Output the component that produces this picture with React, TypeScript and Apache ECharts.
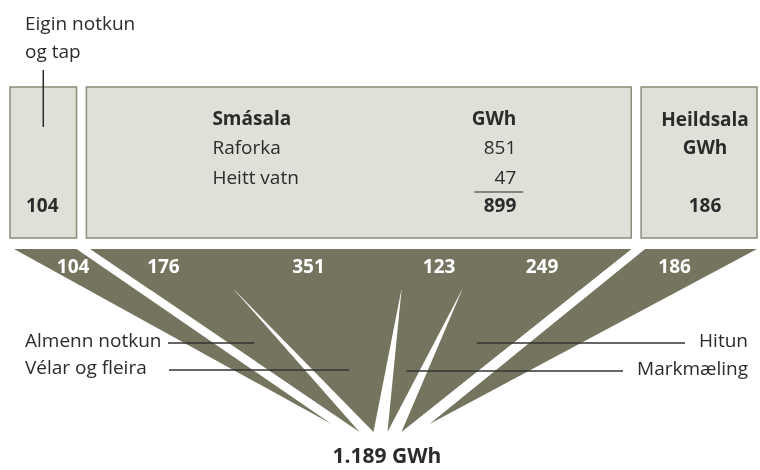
import { useEffect, useRef } from "react";
import * as echarts from "echarts";

// ---------- data ----------
const PIECE_NAMES = ["Eigin notkun og tap", "Almenn notkun", "Vélar og fleira", "Markmæling", "Hitun", "Heildsala"];
const PIECE_VALUES = [104, 176, 351, 123, 249, 186];
const PIECE_GROUP = [0, 1, 1, 1, 1, 2];
const BOX_TOTALS = [104, 899, 186];
const OWN_USE_TITLE = ["Eigin notkun", "og tap"];
const RETAIL_TITLE = "Smásala";
const WHOLESALE_TITLE = "Heildsala";
const RETAIL_ROWS = ["Raforka", "Heitt vatn"];
const RETAIL_VALUES = [851, 47];
const UNIT = "GWh";
const GRAND_TOTAL = 1189;
const ANNOTATED = [1, 2, 3, 4];

// ---------- layout / style ----------
const GAP = 23;
const TOP_Y = 249;
const SLIVER_Y = 288;
const TIP_Y_OUT = 424;
const TIP_Y_IN = 432;
const TIP_STEP = 14;
const TIP_SHIFT = -5;
const LABEL_Y = 266;
const BOX_TOP = 87;
const BOX_BOTTOM = 238;
const WEDGE = "#75745f";
const BOX_FILL = "#e0dfd8";
const BOX_STROKE = "#8c8c7a";
const TEXT = "#2b2b2b";
const FONT = '"Open Sans", "Noto Sans", sans-serif';
const FS = 19;
const ANNOT_LAYOUT: Record<number, { side: string; y: number; from: number }> = {
  1: { side: "left", y: 343, from: 168 },
  2: { side: "left", y: 370, from: 169 },
  3: { side: "right", y: 371, from: 623 },
  4: { side: "right", y: 343, from: 685 },
};

let cursor = 0;
let slot = 0;
const pieceSlots: number[] = [];
const pieceData = PIECE_VALUES.map((v, i) => {
  if (i > 0 && PIECE_GROUP[i] !== PIECE_GROUP[i - 1]) {
    cursor += GAP;
    slot += 1;
  }
  pieceSlots.push(slot);
  slot += 1;
  const s = cursor;
  cursor += v;
  return [s, cursor, v, i];
});
const SLOT_CENTER = (pieceSlots[0] + pieceSlots[pieceSlots.length - 1]) / 2;
const AXIS_MAX = cursor;
const boxData = BOX_TOTALS.map((t, g) => {
  const ps = pieceData.filter((d) => PIECE_GROUP[d[3]] === g);
  return [ps[0][0], ps[ps.length - 1][1], t, g];
});
const groupSize = (g: number) => PIECE_GROUP.filter((x) => x === g).length;
const fmt = (n: number) => String(n).replace(/\B(?=(\d{3})+(?!\d))/g, ".");

function txt(text: string, x: number, y: number, align: string, bold = false, fill = TEXT, size = FS) {
  return {
    type: "text",
    x,
    y,
    style: { text, fill, fontSize: size, fontWeight: bold ? "bold" : "normal", fontFamily: FONT, align, verticalAlign: "middle" },
  };
}

function geom(api: any) {
  const px = (v: number) => api.coord([v, 0.5])[0];
  const C = px(AXIS_MAX / 2) + TIP_SHIFT;
  return pieceData.map(([s, e, , i]) => {
    const x0 = px(s);
    const x1 = px(e);
    const mid = (x0 + x1) / 2;
    const outer = groupSize(PIECE_GROUP[i]) === 1;
    return { x0, x1, mid, tipX: C + (pieceSlots[i] - SLOT_CENTER) * TIP_STEP, tipY: outer ? TIP_Y_OUT : TIP_Y_IN };
  });
}
function apex(G: any[], i: number) {
  const bx = G[i].x1;
  const mx = (G[i].tipX + G[i + 1].tipX) / 2;
  const my = (G[i].tipY + G[i + 1].tipY) / 2;
  return bx + ((mx - bx) * (SLIVER_Y - TOP_Y)) / (my - TOP_Y);
}
function centerAt(p: any, y: number) {
  return p.mid + ((p.tipX - p.mid) * (y - TOP_Y)) / (p.tipY - TOP_Y);
}
function edgeAt(xTop: number, tipX: number, tipY: number, y: number) {
  return xTop + ((tipX - xTop) * (y - TOP_Y)) / (tipY - TOP_Y);
}

export default function App() {
  const ref = useRef<HTMLDivElement>(null);
  useEffect(() => {
    const chart = echarts.init(ref.current!, undefined, { renderer: "svg" });
    const N = PIECE_VALUES.length;
    chart.setOption({
      animation: false,
      grid: { left: 14, right: 3, top: 0, bottom: 0 },
      xAxis: { type: "value", min: 0, max: AXIS_MAX, show: false },
      yAxis: { type: "value", min: 0, max: 1, show: false },
      tooltip: { show: false },
      series: [
        {
          type: "custom",
          name: "boxes",
          silent: true,
          clip: false,
          data: boxData,
          renderItem: (params: any, api: any) => {
            const g = params.dataIndex;
            const px = (v: number) => api.coord([v, 0.5])[0];
            const x0 = px(boxData[g][0]) - 4;
            const x1 = px(boxData[g][1]);
            const children: any[] = [
              {
                type: "rect",
                shape: { x: x0, y: BOX_TOP, width: x1 - x0, height: BOX_BOTTOM - BOX_TOP },
                style: { fill: BOX_FILL, stroke: BOX_STROKE, lineWidth: 1.5 },
              },
            ];
            if (g === 0) {
              const cx = (x0 + x1) / 2;
              children.push(txt(OWN_USE_TITLE[0], x0 + 15, 23, "left"));
              children.push(txt(OWN_USE_TITLE[1], x0 + 15, 51, "left"));
              children.push({ type: "line", shape: { x1: cx, y1: 70, x2: cx, y2: 127 }, style: { stroke: TEXT, lineWidth: 1.5 } });
              children.push(txt(String(BOX_TOTALS[0]), x0 + 16, 205, "left", true));
            } else if (g === 1) {
              const L = x0 + 126;
              const R = x1 - 115;
              children.push(txt(RETAIL_TITLE, L, 118, "left", true));
              children.push(txt(UNIT, R, 118, "right", true));
              RETAIL_ROWS.forEach((r, j) => {
                children.push(txt(r, L, 147 + 30 * j, "left"));
                children.push(txt(String(RETAIL_VALUES[j]), R, 147 + 30 * j, "right"));
              });
              children.push({ type: "line", shape: { x1: R - 42, y1: 192, x2: R + 7, y2: 192 }, style: { stroke: TEXT, lineWidth: 1 } });
              children.push(txt(String(BOX_TOTALS[1]), R, 205, "right", true));
            } else {
              const cx = (x0 + x1) / 2 + 6;
              children.push(txt(WHOLESALE_TITLE, cx, 119, "center", true));
              children.push(txt(UNIT, cx, 147, "center", true));
              children.push(txt(String(BOX_TOTALS[2]), cx, 205, "center", true));
            }
            return { type: "group", children };
          },
        },
        {
          type: "custom",
          name: "flows",
          silent: true,
          clip: false,
          data: pieceData,
          renderItem: (params: any, api: any) => {
            const i = params.dataIndex;
            const G = geom(api);
            const p = G[i];
            const sameLeft = i > 0 && PIECE_GROUP[i - 1] === PIECE_GROUP[i];
            const sameRight = i < N - 1 && PIECE_GROUP[i + 1] === PIECE_GROUP[i];
            const children: any[] = [];
            if (!sameLeft && sameRight) {
              // shared band of a split group, drawn underneath so that no seams show
              let last = i;
              while (last + 1 < N && PIECE_GROUP[last + 1] === PIECE_GROUP[i]) last++;
              const q = G[last];
              children.push({
                type: "polygon",
                shape: {
                  points: [
                    [p.x0, TOP_Y],
                    [q.x1, TOP_Y],
                    [edgeAt(q.x1, q.tipX, q.tipY, SLIVER_Y + 2), SLIVER_Y + 2],
                    [edgeAt(p.x0, p.tipX, p.tipY, SLIVER_Y + 2), SLIVER_Y + 2],
                  ],
                },
                style: { fill: WEDGE },
              });
            }
            const pts: number[][] = [
              [p.x0, TOP_Y],
              [p.x1, TOP_Y],
            ];
            if (sameRight) pts.push([apex(G, i), SLIVER_Y]);
            pts.push([p.tipX, p.tipY]);
            if (sameLeft) pts.push([apex(G, i - 1), SLIVER_Y]);
            children.push({ type: "polygon", shape: { points: pts }, style: { fill: WEDGE } });
            return { type: "group", children };
          },
        },
        {
          type: "custom",
          name: "values",
          silent: true,
          clip: false,
          z: 4,
          data: pieceData,
          renderItem: (params: any, api: any) => {
            const i = params.dataIndex;
            const p = geom(api)[i];
            return txt(String(PIECE_VALUES[i]), centerAt(p, LABEL_Y), LABEL_Y, "center", true, "#ffffff");
          },
        },
        {
          type: "custom",
          name: "annotations",
          silent: true,
          clip: false,
          z: 5,
          data: ANNOTATED.map((i) => [pieceData[i][0], i]),
          renderItem: (params: any, api: any) => {
            const i = ANNOTATED[params.dataIndex];
            const G = geom(api);
            const lay = ANNOT_LAYOUT[i];
            const end = centerAt(G[i], lay.y);
            const left = lay.side === "left";
            return {
              type: "group",
              children: [
                { type: "line", shape: { x1: lay.from, y1: lay.y, x2: end, y2: lay.y }, style: { stroke: "#333333", lineWidth: 1.5 } },
                txt(PIECE_NAMES[i], left ? 25 : 748, lay.y - 3, left ? "left" : "right"),
              ],
            };
          },
        },
      ],
      graphic: [
        {
          type: "text",
          x: 387,
          y: 455,
          silent: true,
          style: {
            text: `${fmt(GRAND_TOTAL)} ${UNIT}`,
            fill: TEXT,
            fontSize: 21,
            fontWeight: "bold",
            fontFamily: FONT,
            align: "center",
            verticalAlign: "middle",
          },
        },
      ],
    });
    return () => chart.dispose();
  }, []);
  return (
    <div style={{ position: "fixed", left: 0, top: 0, width: 760, height: 470 }}>
      <div ref={ref} style={{ width: 760, height: 470 }} />
    </div>
  );
}
